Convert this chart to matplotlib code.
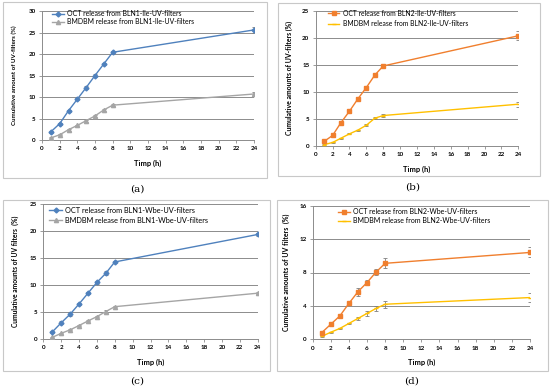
import matplotlib
matplotlib.use("Agg")
import matplotlib.pyplot as plt
from matplotlib.patches import Rectangle
from matplotlib.lines import Line2D

plt.rcParams['font.family'] = ['Lato', 'DejaVu Sans']

time_h = [1, 2, 3, 4, 5, 6, 7, 8, 24]
x_ticks = [0, 2, 4, 6, 8, 10, 12, 14, 16, 18, 20, 22, 24]

# Panel (a)
a_oct = [1.9, 3.8, 6.8, 9.5, 12.2, 15.0, 17.7, 20.4, 25.6]
a_oct_err = [0.2, 0.2, 0.2, 0.3, 0.3, 0.4, 0.3, 0.2, 0.6]
a_bmd = [0.5, 1.2, 2.4, 3.4, 4.5, 5.6, 7.0, 8.1, 10.7]
a_bmd_err = [0.1, 0.1, 0.2, 0.2, 0.2, 0.2, 0.2, 0.2, 0.4]

# Panel (b)
b_oct = [0.8, 1.9, 4.3, 6.4, 8.7, 10.8, 13.1, 14.8, 20.4]
b_oct_err = [0.2, 0.2, 0.3, 0.4, 0.3, 0.3, 0.2, 0.2, 0.8]
b_bmd = [0.2, 0.6, 1.4, 2.2, 2.9, 3.8, 5.1, 5.6, 7.7]
b_bmd_err = [0.1, 0.1, 0.1, 0.1, 0.1, 0.2, 0.2, 0.2, 0.5]

# Panel (c)
c_oct = [1.3, 3.0, 4.6, 6.5, 8.5, 10.5, 12.2, 14.3, 19.4]
c_oct_err = [0.2, 0.3, 0.4, 0.2, 0.2, 0.2, 0.4, 0.2, 0.2]
c_bmd = [0.3, 1.05, 1.7, 2.5, 3.35, 4.15, 5.1, 6.0, 8.5]
c_bmd_err = [0.1, 0.1, 0.1, 0.1, 0.1, 0.1, 0.2, 0.1, 0.2]

# Panel (d)
d_oct = [0.8, 1.8, 2.8, 4.3, 5.7, 6.8, 8.05, 9.1, 10.4]
d_oct_err = [0.1, 0.1, 0.1, 0.2, 0.5, 0.3, 0.4, 0.6, 0.6]
d_bmd = [0.35, 0.85, 1.3, 1.9, 2.5, 3.1, 3.7, 4.2, 5.0]
d_bmd_err = [0.05, 0.05, 0.1, 0.1, 0.2, 0.3, 0.3, 0.4, 0.5]

BLUE = '#4F81BD'
GRAY = '#A5A5A5'
ORANGE = '#F07F2E'
YELLOW = '#FFC000'

W, H = 550, 388
fig = plt.figure(figsize=(5.5, 3.88), dpi=100)
fig.canvas.draw()
R = fig.canvas.get_renderer()


def fit_size(s, target_px, weight='normal'):
    t = fig.text(0, 0, s, fontsize=10, fontweight=weight)
    w = t.get_window_extent(R).width
    t.remove()
    return 10 * target_px / w


def px_rect(x0, y0, x1, y1):
    return [x0 / W, 1 - y1 / H, (x1 - x0) / W, (y1 - y0) / H]


# panel boxes
for (x0, y0, x1, y1) in [(3, 2, 267, 178), (278, 3, 540, 176), (3, 200, 270, 371), (277, 200, 548, 371)]:
    fig.patches.append(Rectangle((x0 / W, 1 - y1 / H), (x1 - x0) / W, (y1 - y0) / H,
                                 transform=fig.transFigure, fill=False,
                                 edgecolor='#C8C8C8', linewidth=0.8))

panels = [
    dict(rect=px_rect(42, 11, 254, 140), oct=a_oct, oe=a_oct_err, bmd=a_bmd, be=a_bmd_err,
         c1=BLUE, c2=GRAY, m1='D', m2='^', ms1=2.5, ms2=3,
         ymax=30, ystep=5, ylabel='Cumulative amount of UV-filters (%)', ylw=100, ylp=8,
         l1='OCT release from BLN1-Ile-UV-filters', l2='BMDBM release from BLN1-Ile-UV-filters',
         lw=127, leg=(0.047, 1.005), lsp=0.1, tag='(a)', tagxy=(137, 189)),
    dict(rect=px_rect(315.7, 11, 518.3, 145.7), oct=b_oct, oe=b_oct_err, bmd=b_bmd, be=b_bmd_err,
         c1=ORANGE, c2=YELLOW, m1='s', m2='_', ms1=3.5, ms2=3,
         ymax=25, ystep=5, ylabel='Cumulative amounts of UV-filters (%)', ylw=114, ylp=6.5,
         l1='OCT release from BLN2-Ile-UV-filters', l2='BMDBM release from BLN2-Ile-UV-filters',
         lw=124, leg=(0.061, 1.01), lsp=0.55, tag='(b)', tagxy=(413, 187)),
    dict(rect=px_rect(43.3, 204.3, 257.7, 339), oct=c_oct, oe=c_oct_err, bmd=c_bmd, be=c_bmd_err,
         c1=BLUE, c2=GRAY, m1='D', m2='^', ms1=2.5, ms2=3,
         ymax=25, ystep=5, ylabel='Cumulative amounts of UV filters  (%)', ylw=112, ylp=8,
         l1='OCT release from BLN1-Wbe-UV-filters', l2='BMDBM release from BLN1-Wbe-UV-filters',
         lw=144, leg=(0.028, 0.98), lsp=0.4, tag='(c)', tagxy=(137, 381)),
    dict(rect=px_rect(312.7, 205.7, 530, 339.3), oct=d_oct, oe=d_oct_err, bmd=d_bmd, be=d_bmd_err,
         c1=ORANGE, c2=YELLOW, m1='s', m2='_', ms1=3.5, ms2=3,
         ymax=16, ystep=4, ylabel='Cumulative amounts of UV filters  (%)', ylw=117, ylp=6.5,
         l1='OCT release from BLN2-Wbe-UV-filters', l2='BMDBM release from BLN2-Wbe-UV-filters',
         lw=137, leg=(0.116, 0.98), lsp=0.25, tag='(d)', tagxy=(412, 381)),
]

tick_fs = fit_size('10', 7.3, 'bold')
xl_fs = fit_size('Timp (h)', 27, 'bold')

for p in panels:
    ax = fig.add_axes(p['rect'])
    ax.errorbar(time_h, p['oct'], yerr=p['oe'], color=p['c1'], marker=p['m1'],
                markersize=p['ms1'], linewidth=1.0, elinewidth=0.6, ecolor='#7F7F7F',
                capsize=1.2, capthick=0.6, zorder=4)
    ax.errorbar(time_h, p['bmd'], yerr=p['be'], color=p['c2'], marker=p['m2'],
                markersize=p['ms2'], linewidth=1.0, elinewidth=0.6, ecolor='#7F7F7F',
                capsize=1.2, capthick=0.6, zorder=3)
    ax.set_xlim(0, 24)
    ax.set_ylim(0, p['ymax'])
    ax.set_xticks(x_ticks)
    ax.set_yticks(range(0, p['ymax'] + 1, p['ystep']))
    ax.yaxis.grid(True, color='#8C8C8C', linewidth=0.7)
    ax.set_axisbelow(True)
    for s in ['top', 'right']:
        ax.spines[s].set_visible(False)
    for s in ['left', 'bottom']:
        ax.spines[s].set_color('#8C8C8C')
        ax.spines[s].set_linewidth(0.7)
    ax.tick_params(axis='both', labelsize=tick_fs, length=2, width=0.6, color='#8C8C8C', pad=2.5)
    for lab in ax.get_xticklabels() + ax.get_yticklabels():
        lab.set_fontweight('bold')
    ax.set_xlabel('Timp (h)', fontsize=xl_fs, fontweight='bold', labelpad=6)
    ax.set_ylabel(p['ylabel'], fontsize=fit_size(p['ylabel'], p['ylw'], 'bold'),
                  fontweight='bold', labelpad=p['ylp'])
    h1 = Line2D([], [], color=p['c1'], marker=p['m1'], markersize=p['ms1'], linewidth=1.0)
    h2 = Line2D([], [], color=p['c2'], marker=p['m2'], markersize=p['ms2'], linewidth=1.0)
    lfs = fit_size(p['l2'], p['lw'])
    ax.legend([h1, h2], [p['l1'], p['l2']], loc='upper left', bbox_to_anchor=p['leg'],
              frameon=False, fontsize=lfs, handlelength=1.7, borderpad=0, borderaxespad=0,
              labelspacing=p['lsp'], handletextpad=0.45)
    fig.text(p['tagxy'][0] / W, 1 - p['tagxy'][1] / H, p['tag'], ha='center', va='center',
             fontsize=7.5, family='DejaVu Serif')

fig.savefig('out.png', dpi=100)
